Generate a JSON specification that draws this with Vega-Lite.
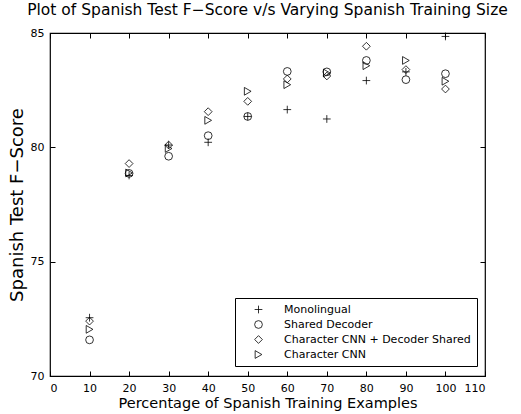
{
  "$schema": "https://vega.github.io/schema/vega-lite/v6.json",
  "width": 435,
  "height": 343,
  "autosize": {"type": "none"},
  "padding": {"left": 50, "top": 33, "right": 36, "bottom": 38},
  "background": "white",
  "title": {"text": "Plot of Spanish Test F−Score v/s Varying Spanish Training Size", "font": "DejaVu Sans", "fontSize": 15.5, "fontWeight": "normal", "color": "black", "anchor": "middle", "offset": 9},
  "config": {
    "view": {"stroke": "black", "strokeWidth": 1.2},
    "axis": {"grid": false, "domain": false, "offset": -5, "tickSize": 5, "tickWidth": 1, "tickColor": "black", "labelColor": "black", "titleColor": "black", "labelFont": "DejaVu Sans", "titleFont": "DejaVu Sans", "labelFontSize": 11, "titleFontWeight": "normal"}
  },
  "resolve": {"axis": {"x": "independent", "y": "independent"}},
  "data": {"values": [
    {"x": 10, "y": 72.55, "s": "Monolingual"},
    {"x": 10, "y": 71.58, "s": "Shared Decoder"},
    {"x": 10, "y": 72.4, "s": "Character CNN + Decoder Shared"},
    {"x": 10, "y": 72.04, "s": "Character CNN"},
    {"x": 20, "y": 78.77, "s": "Monolingual"},
    {"x": 20, "y": 78.86, "s": "Shared Decoder"},
    {"x": 20, "y": 79.29, "s": "Character CNN + Decoder Shared"},
    {"x": 20, "y": 78.88, "s": "Character CNN"},
    {"x": 30, "y": 80.1, "s": "Monolingual"},
    {"x": 30, "y": 79.61, "s": "Shared Decoder"},
    {"x": 30, "y": 80.1, "s": "Character CNN + Decoder Shared"},
    {"x": 30, "y": 79.95, "s": "Character CNN"},
    {"x": 40, "y": 80.22, "s": "Monolingual"},
    {"x": 40, "y": 80.51, "s": "Shared Decoder"},
    {"x": 40, "y": 81.56, "s": "Character CNN + Decoder Shared"},
    {"x": 40, "y": 81.18, "s": "Character CNN"},
    {"x": 50, "y": 81.35, "s": "Monolingual"},
    {"x": 50, "y": 81.35, "s": "Shared Decoder"},
    {"x": 50, "y": 82.01, "s": "Character CNN + Decoder Shared"},
    {"x": 50, "y": 82.45, "s": "Character CNN"},
    {"x": 60, "y": 81.65, "s": "Monolingual"},
    {"x": 60, "y": 83.32, "s": "Shared Decoder"},
    {"x": 60, "y": 82.99, "s": "Character CNN + Decoder Shared"},
    {"x": 60, "y": 82.74, "s": "Character CNN"},
    {"x": 70, "y": 81.24, "s": "Monolingual"},
    {"x": 70, "y": 83.3, "s": "Shared Decoder"},
    {"x": 70, "y": 83.12, "s": "Character CNN + Decoder Shared"},
    {"x": 70, "y": 83.25, "s": "Character CNN"},
    {"x": 80, "y": 82.92, "s": "Monolingual"},
    {"x": 80, "y": 83.8, "s": "Shared Decoder"},
    {"x": 80, "y": 84.42, "s": "Character CNN + Decoder Shared"},
    {"x": 80, "y": 83.57, "s": "Character CNN"},
    {"x": 90, "y": 83.3, "s": "Monolingual"},
    {"x": 90, "y": 82.96, "s": "Shared Decoder"},
    {"x": 90, "y": 83.4, "s": "Character CNN + Decoder Shared"},
    {"x": 90, "y": 83.8, "s": "Character CNN"},
    {"x": 100, "y": 84.85, "s": "Monolingual"},
    {"x": 100, "y": 83.22, "s": "Shared Decoder"},
    {"x": 100, "y": 82.55, "s": "Character CNN + Decoder Shared"},
    {"x": 100, "y": 82.89, "s": "Character CNN"}
  ]},
  "layer": [
    {
      "mark": {"type": "point", "filled": false, "stroke": "black", "strokeWidth": 0.8, "size": 60, "opacity": 1},
      "encoding": {
        "x": {"field": "x", "type": "quantitative", "scale": {"domain": [0, 110], "nice": false}, "axis": {"values": [0,10,20,30,40,50,60,70,80,90,100,110], "title": "Percentage of Spanish Training Examples", "titleFontSize": 14.5, "labelPadding": 6, "titlePadding": 3}},
        "y": {"field": "y", "type": "quantitative", "scale": {"domain": [70, 85], "nice": false, "zero": false}, "axis": {"values": [70, 75, 80, 85], "title": "Spanish Test F−Score", "titleFontSize": 18, "labelPadding": 6, "titlePadding": 4}},
        "shape": {"field": "s", "type": "nominal", "scale": {"domain": ["Monolingual", "Shared Decoder", "Character CNN + Decoder Shared", "Character CNN"], "range": ["M-1,0H1M0,-1V1", "circle", "diamond", "triangle-right"]},
          "legend": {"title": null, "orient": "none", "legendX": 185, "legendY": 265, "direction": "vertical", "strokeColor": "black", "fillColor": "white", "padding": 6, "labelFont": "DejaVu Sans", "labelFontSize": 11, "labelColor": "black", "symbolStrokeColor": "black", "symbolStrokeWidth": 0.8, "symbolSize": 60, "symbolOffset": 12, "labelOffset": 20, "rowPadding": 3, "labelLimit": 300}}
      }
    },
    {
      "mark": {"type": "point", "opacity": 0},
      "encoding": {
        "x": {"field": "x", "type": "quantitative", "axis": {"orient": "top", "values": [0,10,20,30,40,50,60,70,80,90,100,110], "labels": false, "title": null}},
        "y": {"field": "y", "type": "quantitative", "axis": {"orient": "right", "values": [70, 75, 80, 85], "labels": false, "title": null}}
      }
    }
  ]
}
